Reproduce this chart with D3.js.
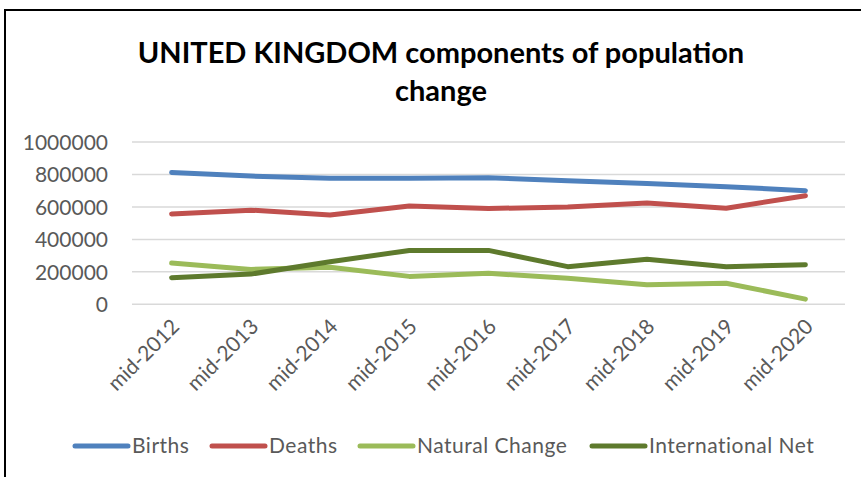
<!DOCTYPE html>
<html><head><meta charset="utf-8">
<script src="https://cdn.jsdelivr.net/npm/d3@7"></script>
<style>body{margin:0;background:#fff;} svg{display:block;}</style>
</head><body>
<svg id="c" width="861" height="477"></svg>
<script>
const categories = ["mid-2012","mid-2013","mid-2014","mid-2015","mid-2016","mid-2017","mid-2018","mid-2019","mid-2020"];
const births = [812000, 790000, 776000, 777000, 780000, 762000, 745000, 725000, 700000];
const deaths = [557000, 580000, 550000, 605000, 590000, 600000, 624000, 592000, 669000];
const naturalChange = [254000, 215000, 228000, 172000, 191000, 160000, 120000, 130000, 32000];
const internationalNet = [164000, 186000, 262000, 332000, 332000, 232000, 277000, 232000, 244000];
const yTicks = [0, 200000, 400000, 600000, 800000, 1000000];
const seriesNames = ["Births","Deaths","Natural Change","International Net"];
const seriesColors = ["#4F81BD","#C0504D","#9BBB59","#5E7A2D"];
const seriesValues = [births, deaths, naturalChange, internationalNet];

const svg = d3.select("#c");
const font = "Lato, 'Open Sans', sans-serif";
svg.append("rect").attr("x",5).attr("y",10).attr("width",900).attr("height",520)
  .attr("fill","#fff").attr("stroke","#000").attr("stroke-width",2);

const x = d3.scaleBand().domain(categories).range([132, 845]);
const y = d3.scaleLinear().domain([0, 1000000]).range([304.3, 142]);

// gridlines
svg.append("g").selectAll("line").data(yTicks).join("line")
  .attr("x1",132).attr("x2",845).attr("y1",d=>y(d)).attr("y2",d=>y(d))
  .attr("stroke","#D9D9D9").attr("stroke-width",1.5);

// y axis labels
const yAxis = d3.axisLeft(y).tickValues(yTicks).tickSize(0).tickPadding(0).tickFormat(d3.format("d"));
const gy = svg.append("g").attr("transform","translate(108,0)").call(yAxis);
gy.select(".domain").remove();
gy.selectAll("text").attr("font-family",font).attr("font-size",21).attr("fill","#595959").attr("dy","0.35em");

// x axis labels
const xAxis = d3.axisBottom(x).tickSize(0).tickPadding(0);
const gx = svg.append("g").attr("transform","translate(0,318)").call(xAxis);
gx.select(".domain").remove();
gx.selectAll("text").attr("font-family",font).attr("font-size",21).attr("fill","#595959")
  .attr("text-anchor","end").attr("dy","0").attr("y",0)
  .attr("transform","translate(9,10) rotate(-45)");

// lines
const line = d3.line().x((d,i)=>x(categories[i]) + x.bandwidth()/2).y(d=>y(d));
svg.append("g").selectAll("path").data(seriesValues).join("path")
  .attr("d", d=>line(d)).attr("fill","none")
  .attr("stroke",(d,i)=>seriesColors[i]).attr("stroke-width",5)
  .attr("stroke-linecap","round").attr("stroke-linejoin","round");

// title
const title = svg.append("text").attr("x",441).attr("text-anchor","middle")
  .attr("font-family",font).attr("font-weight","bold").attr("font-size",29).attr("fill","#000");
title.append("tspan").attr("x",441).attr("y",63).text("UNITED KINGDOM components of population");
title.append("tspan").attr("x",441).attr("y",101).text("change");

// legend
const legendX = [73, 210, 358, 590];
const lg = svg.append("g").selectAll("g").data(seriesNames).join("g")
  .attr("transform",(d,i)=>`translate(${legendX[i]},446)`);
lg.append("line").attr("x1",2).attr("x2",55).attr("y1",0).attr("y2",0)
  .attr("stroke",(d,i)=>seriesColors[i]).attr("stroke-width",5).attr("stroke-linecap","round");
lg.append("text").attr("x",59).attr("y",0).attr("dy","0.35em")
  .attr("font-family",font).attr("font-size",21).attr("letter-spacing",0.5)
  .attr("fill","#595959").text(d=>d);
</script>
</body></html>
